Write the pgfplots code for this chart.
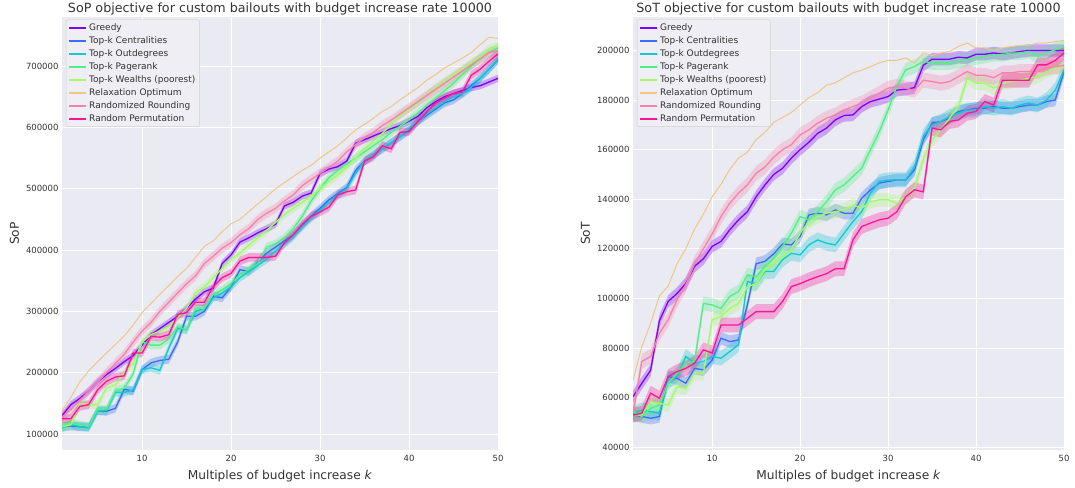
\documentclass[border=0pt]{standalone}
\usepackage{fontspec}
\setmainfont{DejaVu Sans}
\usepackage{pgfplots}
\pgfplotsset{compat=1.18}
\usepackage{pgfplotstable}
\usepgfplotslibrary{fillbetween}

\definecolor{bg}{HTML}{EAEAF2}
\definecolor{legbg}{HTML}{EEEEF4}
\definecolor{txt}{HTML}{333333}
\definecolor{cG}{RGB}{128,0,255}
\definecolor{cC}{RGB}{55,111,249}
\definecolor{cO}{RGB}{18,200,210}
\definecolor{cP}{RGB}{80,240,130}
\definecolor{cW}{RGB}{164,249,110}
\definecolor{cR}{RGB}{240,198,135}
\definecolor{cRR}{RGB}{245,130,170}
\definecolor{cRP}{RGB}{255,20,150}

% SoP: g=Greedy c=Centralities o=Outdegrees p=Pagerank w=Wealths r=Relaxation rr=Rounding rp=Permutation
\pgfplotstableread{
k g c o p w r rr rp
1 130000 112000 110000 115000 112000 138000 128000 125000
2 148000 113000 115000 118000 115000 160000 140000 125000
3 158000 112000 112000 115000 150000 185000 155000 145000
4 170000 112000 110000 112000 148000 203000 170000 148000
5 185000 138000 138000 140000 148000 218000 185000 172000
6 197000 137000 138000 140000 175000 232000 200000 186000
7 207000 142000 168000 170000 180000 246000 215000 193000
8 218000 173000 168000 175000 200000 260000 230000 195000
9 228000 170000 172000 198000 215000 278000 250000 232000
10 245000 205000 205000 250000 250000 298000 268000 232000
11 262000 216000 208000 245000 262000 313000 282000 259000
12 272000 220000 204000 245000 268000 328000 300000 258000
13 282000 222000 240000 255000 275000 342000 315000 262000
14 292000 250000 272000 275000 290000 357000 330000 295000
15 305000 292000 270000 270000 305000 370000 345000 298000
16 320000 292000 300000 305000 330000 388000 358000 315000
17 332000 300000 305000 305000 340000 406000 378000 315000
18 338000 325000 322000 328000 355000 415000 390000 340000
19 378000 322000 330000 335000 370000 430000 403000 355000
20 392000 340000 340000 345000 385000 443000 412000 362000
21 413000 368000 355000 360000 395000 450000 425000 382000
22 420000 365000 365000 368000 408000 463000 435000 388000
23 428000 380000 375000 378000 420000 475000 450000 388000
24 435000 395000 385000 405000 432000 487000 460000 388000
25 442000 405000 398000 410000 445000 500000 468000 390000
26 472000 415000 410000 420000 458000 510000 480000 412000
27 478000 425000 422000 435000 468000 520000 490000 425000
28 488000 440000 438000 455000 478000 530000 505000 442000
29 493000 455000 452000 480000 488000 538000 515000 455000
30 525000 468000 465000 500000 500000 550000 525000 462000
31 532000 482000 478000 518000 512000 560000 535000 470000
32 536000 492000 490000 530000 522000 570000 545000 490000
33 545000 502000 500000 540000 535000 583000 560000 495000
34 574000 530000 525000 550000 550000 596000 572000 498000
35 580000 545000 545000 560000 565000 605000 583000 545000
36 586000 555000 555000 570000 578000 615000 592000 552000
37 592000 565000 565000 580000 590000 626000 603000 570000
38 598000 575000 575000 592000 605000 634000 612000 565000
39 603000 585000 585000 602000 620000 645000 622000 592000
40 610000 595000 598000 612000 630000 655000 632000 593000
41 618000 610000 610000 624000 640000 665000 642000 610000
42 632000 620000 622000 636000 652000 677000 652000 625000
43 642000 630000 632000 648000 665000 686000 662000 640000
44 650000 640000 642000 660000 675000 697000 672000 648000
45 655000 645000 650000 672000 685000 705000 682000 655000
46 660000 655000 655000 686000 695000 713000 692000 658000
47 665000 668000 665000 700000 705000 722000 702000 685000
48 668000 680000 680000 712000 715000 735000 712000 695000
49 674000 695000 695000 722000 728000 747000 722000 708000
50 680000 710000 712000 730000 732000 745000 725000 720000
}\sop

\pgfplotstableread{
k g c o p w r rr rp
1 60400 53000 53700 54400 53000 67000 53700 53000
2 65800 52400 55000 52400 53000 80600 74600 53700
3 71000 51700 54400 55700 58400 90000 76600 61800
4 91000 52400 53700 57000 57700 101000 86000 59800
5 98800 68500 67000 65800 57000 105000 91400 68500
6 102000 67800 68500 69800 64500 114000 99400 70500
7 106000 65800 76600 73900 63800 120000 105500 71800
8 113000 71800 73900 74600 69800 128000 114000 73900
9 116000 71200 74600 98000 69800 134000 120000 79300
10 121000 75200 76600 97400 91400 141000 126000 78000
11 123000 84000 75900 96000 92700 146000 133000 89300
12 127700 82600 78600 100800 96000 152000 138400 89300
13 131700 83300 81300 102800 98000 156600 142500 89300
14 135000 97400 106800 109500 104800 159000 145800 92000
15 141000 114000 106000 108800 106000 164000 150500 94700
16 145800 115000 110900 112900 111500 167000 153000 94700
17 150000 118000 110900 116200 114200 171000 157000 94700
18 152500 122000 115600 121000 117000 173000 160000 98800
19 156600 121600 118200 126300 119600 175000 162000 104800
20 160000 125000 117600 133000 126300 178000 166000 106000
21 163000 133700 121600 131700 131000 181000 168000 107500
22 166600 134400 123600 135000 133000 183000 170700 108800
23 168700 133700 122300 139000 134400 186000 172700 110000
24 172000 135700 121600 143800 135000 187000 174000 112000
25 173800 134400 126300 145800 135700 189000 176000 112000
26 174000 134400 131000 149200 137700 191000 177400 123600
27 177400 140400 135000 152500 136400 192000 178800 129000
28 179400 143800 142500 160000 139000 193500 180800 130400
29 180400 146500 147200 167300 139800 195000 182800 131700
30 181400 147200 147800 176000 139800 196000 184800 132400
31 184000 147800 147800 185500 138400 196000 185500 135000
32 184400 147800 147800 192200 141000 197000 184800 141000
33 185000 151800 153000 193500 144500 195000 184000 143800
34 194000 164000 165300 195600 156000 199000 188000 143000
35 196500 170700 170000 195000 164000 198000 187500 168700
36 196500 171400 171400 195000 168000 199000 186800 168000
37 196500 172700 173400 195000 172700 199600 187500 171400
38 197300 175400 174700 195600 177400 201600 189500 172000
39 197000 176000 176000 196300 188800 203000 191500 174700
40 198500 176700 176000 197000 186800 201000 190000 175400
41 198500 176700 177400 197600 186800 201000 190000 179400
42 199000 177400 176700 198300 184800 200000 189000 178000
43 198500 176700 177400 198300 186800 201000 191000 188000
44 199000 176700 176700 199000 187500 201600 191000 188000
45 199600 177400 178000 199000 188000 202000 191500 188000
46 200000 178000 178800 199600 188800 202000 191500 188000
47 200000 178000 178000 197600 189500 203000 191500 194200
48 200000 179400 180000 199000 191500 203000 193000 194200
49 200000 180000 184000 200300 193000 203600 193500 196000
50 200000 191500 192200 201600 193000 204000 194000 199000
}\sot

% band: #1 table, #2 column, #3 colour, #4 half width
\newcommand{\band}[4]{%
  \addplot[draw=none, forget plot, name path=U#2] table[x=k, y expr=\thisrow{#2}+#4]{#1};
  \addplot[draw=none, forget plot, name path=L#2] table[x=k, y expr=\thisrow{#2}-#4]{#1};
  \addplot[fill=#3, fill opacity=0.3, draw=none, forget plot] fill between[of=U#2 and L#2];
}
\newcommand{\legimages}{%
  \addlegendimage{draw=cG, line width=2pt}
  \addlegendimage{draw=cC, line width=2pt}
  \addlegendimage{draw=cO, line width=2pt}
  \addlegendimage{draw=cP, line width=2pt}
  \addlegendimage{draw=cW, line width=2pt}
  \addlegendimage{draw=cR, line width=2pt}
  \addlegendimage{draw=cRR, line width=2pt}
  \addlegendimage{draw=cRP, line width=2pt}
}

\pgfplotsset{sns/.style={
  scale only axis, height=433pt,
  axis background/.style={fill=bg},
  axis line style={draw=none},
  grid=major, major grid style={white, line width=0.9pt},
  major tick length=0pt,
  xmin=1, xmax=50, xtick={10,20,30,40,50},
  tick label style={font=\fontsize{8.5}{10}\selectfont, text=txt},
  xticklabel style={yshift=-2pt},
  /pgf/number format/assume math mode=true,
  yticklabel style={/pgf/number format/fixed, /pgf/number format/1000 sep={}},
  scaled y ticks=false,
  xlabel={Multiples of budget increase \textit{k}},
  label style={font=\fontsize{12.2}{14}\selectfont, text=txt},
  xlabel style={yshift=-1pt},
  title style={font=\fontsize{12.7}{14}\selectfont, text=txt, yshift=-8pt},
  legend style={at={(0.009,0.994)}, anchor=north west, fill=legbg,
    draw=black!18, rounded corners=2pt,
    font=\fontsize{9}{10}\selectfont, text=txt, row sep=0.6pt, inner sep=2pt},
  legend cell align=left,
  every axis plot/.append style={line width=1.3pt, forget plot},
}}

\begin{document}
\begin{tikzpicture}[x=1pt,y=1pt]

\begin{axis}[sns, at={(62pt,37pt)}, anchor=south west, width=436pt,
  ymin=74000, ymax=780000, ytick={100000,200000,300000,400000,500000,600000,700000},
  ylabel={SoP},
  title={SoP objective for custom bailouts with budget increase rate 10000}]
  \band{\sop}{g}{cG}{6000}
  \addplot[cG] table[x=k,y=g]{\sop};
  \band{\sop}{c}{cC}{7000}
  \addplot[cC] table[x=k,y=c]{\sop};
  \band{\sop}{o}{cO}{7000}
  \addplot[cO] table[x=k,y=o]{\sop};
  \band{\sop}{p}{cP}{7000}
  \addplot[cP] table[x=k,y=p]{\sop};
  \band{\sop}{w}{cW}{7000}
  \addplot[cW] table[x=k,y=w]{\sop};
  \addplot[cR, line width=1pt] table[x=k,y=r]{\sop};
  \band{\sop}{rr}{cRR}{8000}
  \addplot[cRR] table[x=k,y=rr]{\sop};
  \band{\sop}{rp}{cRP}{7000}
  \addplot[cRP] table[x=k,y=rp]{\sop};
  \legimages
  \legend{Greedy, Top-k Centralities, Top-k Outdegrees, Top-k Pagerank, Top-k Wealths (poorest), Relaxation Optimum, Randomized Rounding, Random Permutation}
\end{axis}

\begin{axis}[sns, at={(633pt,37pt)}, anchor=south west, width=431pt,
  ymin=38900, ymax=213500, ytick={40000,60000,80000,100000,120000,140000,160000,180000,200000},
  ylabel={SoT},
  title={SoT objective for custom bailouts with budget increase rate 10000}]
  \band{\sot}{g}{cG}{2500}
  \addplot[cG] table[x=k,y=g]{\sot};
  \band{\sot}{c}{cC}{2500}
  \addplot[cC] table[x=k,y=c]{\sot};
  \band{\sot}{o}{cO}{3000}
  \addplot[cO] table[x=k,y=o]{\sot};
  \band{\sot}{p}{cP}{2800}
  \addplot[cP] table[x=k,y=p]{\sot};
  \band{\sot}{w}{cW}{2800}
  \addplot[cW] table[x=k,y=w]{\sot};
  \addplot[cR, line width=1pt] table[x=k,y=r]{\sot};
  \band{\sot}{rr}{cRR}{3000}
  \addplot[cRR] table[x=k,y=rr]{\sot};
  \band{\sot}{rp}{cRP}{3000}
  \addplot[cRP] table[x=k,y=rp]{\sot};
  \legimages
  \legend{Greedy, Top-k Centralities, Top-k Outdegrees, Top-k Pagerank, Top-k Wealths (poorest), Relaxation Optimum, Randomized Rounding, Random Permutation}
\end{axis}
\pgfresetboundingbox
\useasboundingbox (0,0) rectangle (1075,487);
\end{tikzpicture}
\end{document}
